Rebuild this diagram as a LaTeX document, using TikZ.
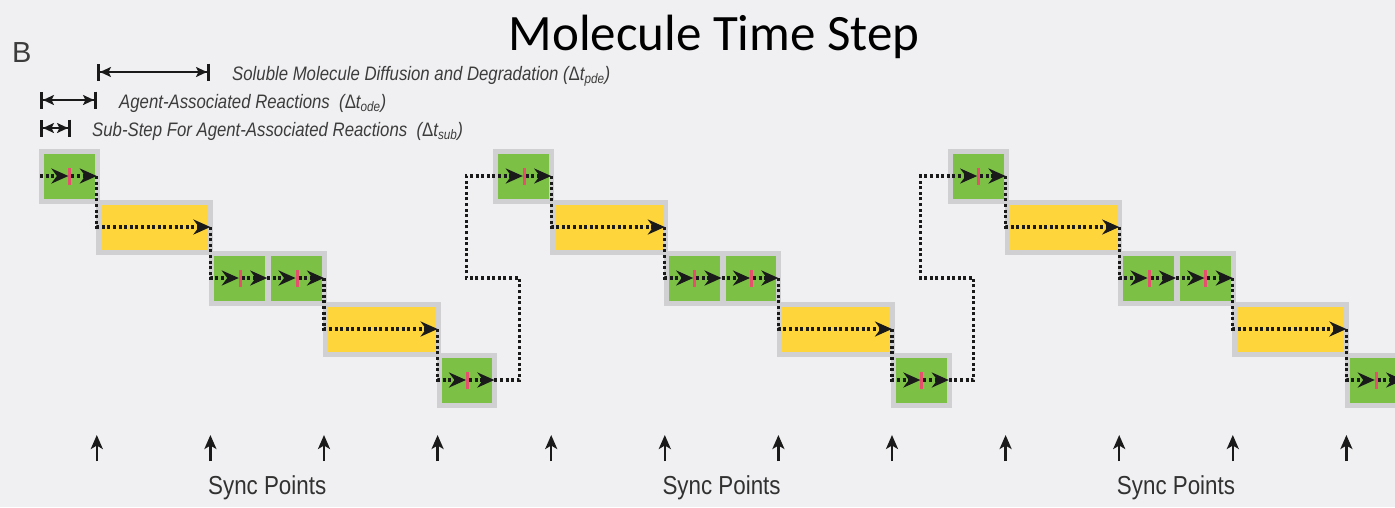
\documentclass[tikz,border=0pt]{standalone}
\usepackage{fontspec}
\setmainfont{Liberation Sans}
\newfontfamily\narrowsans[FakeStretch=0.86]{Liberation Sans}
\newfontfamily\titlefont{Carlito}
\usetikzlibrary{arrows.meta}

\definecolor{paper}{HTML}{F0F0F2}
\definecolor{frame}{HTML}{D0D0D2}
\definecolor{agent}{HTML}{7CC146}
\definecolor{pdefill}{HTML}{FFD53C}
\definecolor{tick}{HTML}{E5506E}
\definecolor{ink}{HTML}{1A1A1A}
\definecolor{legendink}{HTML}{3C3C3C}

\tikzset{
  stepbox/.style={draw=frame, line width=5pt, inner sep=0pt, outer sep=0pt, minimum height=50pt},
  agentbox/.style={stepbox, fill=agent},
  pdebox/.style={stepbox, fill=pdefill},
  flow/.style={draw=ink, line width=3.2pt, dash pattern=on 3pt off 2.6pt},
  flowtip/.style={flow, -{Stealth[length=17pt,width=15pt,inset=5.5pt]}},
  substep/.style={draw=tick, line width=3pt},
  syncarrow/.style={draw=ink, line width=2.4pt, -{Stealth[length=14pt,width=12pt,inset=3.5pt]}},
  spanarrow/.style={draw=ink, line width=2.2pt,
    {Bar[width=17pt,line width=3pt]Stealth[length=11pt,width=10pt,inset=2.5pt]}-{Stealth[length=11pt,width=10pt,inset=2.5pt]Bar[width=17pt,line width=3pt]}},
  legendtext/.style={anchor=base west, text=legendink, inner sep=0pt,
    font=\narrowsans\fontsize{19.5}{22}\selectfont\itshape},
  synctext/.style={anchor=base, text=ink!90, inner sep=0pt,
    font=\narrowsans\fontsize{26}{30}\selectfont},
}

% box between slot edges #3..#4 on row #5, named #2, style #1
\newcommand\slotbox[5]{%
  \pgfmathsetmacro\bw{#4-#3-1}%
  \pgfmathsetmacro\bx{(#3+#4)/2+1}%
  \node[#1, minimum width=\bw pt] (#2) at (\bx,#5+0.5) {};}

% flow marks inside an agent box: mid point, restart point and exit point
\newcommand\agentmarks[4]{%
  \pgfmathsetmacro\mx{(#2+#3)/2}%
  \coordinate (#1-mid) at (\mx,#4);
  \coordinate (#1-cut) at (\mx+3,#4);
  \coordinate (#1-out) at (#3,#4);
  \draw[substep] (\mx+1.5,#4-8) -- (\mx+1.5,#4+9);}

\begin{document}
\begin{tikzpicture}[x=1pt,y=-1pt]
\useasboundingbox (0,0) rectangle (1395,507);
\clip (0,0) rectangle (1395,507);
\fill[paper] (0,0) rectangle (1395,507);

% title and panel letter
\node[anchor=base, inner sep=0pt, font=\titlefont\fontsize{51}{60}\selectfont] (title) at (714,50) {Molecule Time Step};
\node[anchor=base west, inner sep=0pt, text=ink!85, font=\fontsize{29}{32}\selectfont] (panel) at (12,62) {B};

% time-step legend
\coordinate (pdeL) at (97,72);  \coordinate (pdeR) at (210,72);
\coordinate (odeL) at (40,100); \coordinate (odeR) at (97,100);
\coordinate (subL) at (40,128); \coordinate (subR) at (71,128);
\draw[spanarrow] (pdeL) -- (pdeR);
\draw[spanarrow] (odeL) -- (odeR);
\draw[spanarrow] (subL) -- (subR);
\node[legendtext] (pdetext) at (232,80) {Soluble Molecule Diffusion and Degradation ({\upshape Δ}t\textsubscript{pde})};
\node[legendtext] (odetext) at (119,108) {Agent-Associated Reactions\ \ ({\upshape Δ}t\textsubscript{ode})};
\node[legendtext] (subtext) at (92,136) {Sub-Step For Agent-Associated Reactions\ \ ({\upshape Δ}t\textsubscript{sub})};

\foreach \c in {0,1,2} {
  \pgfmathsetmacro\slotA{40+454.4*\c}
  \pgfmathsetmacro\slotB{\slotA+56.8}
  \pgfmathsetmacro\slotC{\slotA+170.4}
  \pgfmathsetmacro\slotM{\slotA+227.2}
  \pgfmathsetmacro\slotD{\slotA+284}
  \pgfmathsetmacro\slotE{\slotA+397.6}
  \pgfmathsetmacro\slotF{\slotA+454.4}

  % step boxes
  \slotbox{agentbox}{ga-\c}{\slotA}{\slotB}{176}
  \slotbox{pdebox}{ya-\c}{\slotB}{\slotC}{227}
  \slotbox{agentbox}{gb-\c}{\slotC}{\slotM}{278}
  \slotbox{agentbox}{gc-\c}{\slotM}{\slotD}{278}
  \slotbox{pdebox}{yb-\c}{\slotD}{\slotE}{329}
  \slotbox{agentbox}{gd-\c}{\slotE}{\slotF}{380}

  \agentmarks{ma-\c}{\slotA}{\slotB}{176}
  \agentmarks{mb-\c}{\slotC}{\slotM}{278}
  \agentmarks{mc-\c}{\slotM}{\slotD}{278}
  \agentmarks{md-\c}{\slotE}{\slotF}{380}
  \coordinate (ya-out-\c) at (\slotC,227);
  \coordinate (yb-out-\c) at (\slotE,329);

  % entry into the first sub-step
  \ifnum\c=0
    \coordinate (entry-\c) at (\slotA,176);
    \draw[flowtip] (entry-\c) -- (ma-\c-mid);
  \else
    \pgfmathtruncatemacro\prev{\c-1}
    \coordinate (entry-\c) at (\slotA-28,176);
    \coordinate (loop-\c) at (\slotA+25,278);
    \draw[flowtip] (md-\prev-out) -| (loop-\c) -| (entry-\c) -- (ma-\c-mid);
  \fi

  % dotted flow through one molecule time step
  \draw[flowtip] (ma-\c-cut) -- (ma-\c-out);
  \draw[flowtip] (ma-\c-out) |- (ya-out-\c);
  \draw[flowtip] (ya-out-\c) |- (mb-\c-mid);
  \draw[flowtip] (mb-\c-cut) -- (mb-\c-out);
  \draw[flowtip] (mb-\c-out) -- (mc-\c-mid);
  \draw[flowtip] (mc-\c-cut) -- (mc-\c-out);
  \draw[flowtip] (mc-\c-out) |- (yb-out-\c);
  \draw[flowtip] (yb-out-\c) |- (md-\c-mid);
  \draw[flowtip] (md-\c-cut) -- (md-\c-out);

  % sync points
  \foreach \k/\sx in {1/\slotB,2/\slotC,3/\slotD,4/\slotE} {
    \coordinate (sync-\c-\k-foot) at (\sx,461);
    \coordinate (sync-\c-\k-head) at (\sx,435);
    \draw[syncarrow] (sync-\c-\k-foot) -- (sync-\c-\k-head);
  }
  \pgfmathsetmacro\lx{(\slotC+\slotD)/2}
  \node[synctext] (synclabel-\c) at (\lx,494) {Sync Points};
}
\end{tikzpicture}
\end{document}
